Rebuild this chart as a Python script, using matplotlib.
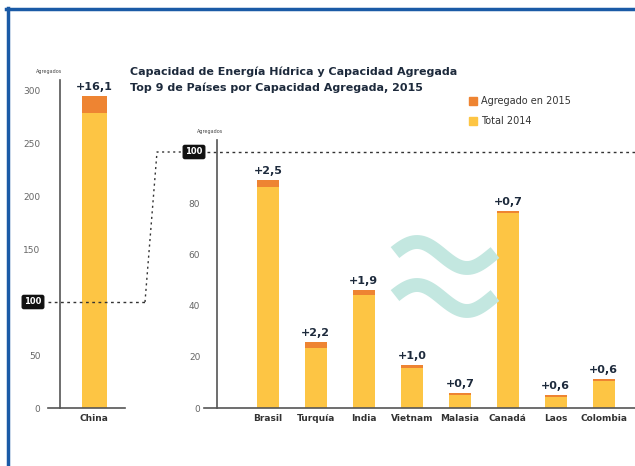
import numpy as np
import matplotlib
matplotlib.use("Agg")
import matplotlib.pyplot as plt
from matplotlib.lines import Line2D
from matplotlib.patches import Rectangle

# data
china_total = [279.0]
china_added = [16.1]
countries = ["Brasil", "Turquía", "India", "Vietnam", "Malasia", "Canadá", "Laos", "Colombia"]
total_2014 = [86.5, 23.6, 44.1, 15.8, 5.1, 76.3, 4.4, 10.7]
added_2015 = [2.5, 2.2, 1.9, 1.0, 0.7, 0.7, 0.6, 0.6]
left_ticks = [0, 50, 150, 200, 250, 300]
right_ticks = [0, 20, 40, 60, 80]

W, H = 635, 466
YELLOW = "#FDC544"
ORANGE = "#EE8432"
DARK = "#1d2a3c"
GREY = "#666666"


def fx(x):
    return x / W


def fy(y):
    return 1 - y / H


def label(v):
    return "+" + f"{v:.1f}".replace(".", ",")


fig = plt.figure(figsize=(W / 100, H / 100), dpi=100)

# blue frame (top and left only)
fig.add_artist(Line2D([fx(6), 1], [fy(9), fy(9)], color="#1a5aa6", lw=2.5))
fig.add_artist(Line2D([fx(8), fx(8)], [fy(8), 0], color="#1a5aa6", lw=2.5))

# ---- left panel: China
axl = fig.add_axes([fx(60), fy(408), fx(125) - fx(60), fy(80) - fy(408)])
axl.bar([0], china_total, width=0.75, color=YELLOW)
axl.bar([0], china_added, bottom=china_total, width=0.75, color=ORANGE)
axl.text(0, china_total[0] + china_added[0] + 4, label(china_added[0]),
         ha="center", va="bottom", fontsize=8, fontweight="bold", color=DARK)
axl.set_xlim(-1.02, 0.93)
axl.set_ylim(0, 310)
axl.set_xticks([0])
axl.set_xticklabels(["China"], fontsize=6.5, fontweight="bold", color="#333333")
axl.set_yticks(left_ticks)
axl.set_yticklabels([str(t) for t in left_ticks], fontsize=6.5, color=GREY)
axl.tick_params(axis="y", length=0, pad=14)
axl.tick_params(axis="x", length=0, pad=4)
for s in ["top", "right", "bottom"]:
    axl.spines[s].set_visible(False)
axl.spines["left"].set_color("#555555")
axl.spines["left"].set_linewidth(1.2)
axl.plot([-0.18, 1], [0, 0], transform=axl.get_yaxis_transform(), color="#555555",
         lw=1.2, clip_on=False)
axl.plot([-0.18, 1.31], [100, 100], transform=axl.get_yaxis_transform(), color="#333333",
         lw=1, ls=(0, (2, 2.5)), clip_on=False)

# ---- right panel: other countries
axr = fig.add_axes([fx(217), fy(408), 1 - fx(217), fy(140) - fy(408)])
xpos = np.arange(len(countries))
axr.bar(xpos, total_2014, width=0.47, color=YELLOW)
axr.bar(xpos, added_2015, bottom=total_2014, width=0.47, color=ORANGE)
for x, t, a in zip(xpos, total_2014, added_2015):
    axr.text(x, t + a + 1.5, label(a), ha="center", va="bottom",
             fontsize=8, fontweight="bold", color=DARK)
axr.set_xlim(-1.06, 7.65)
axr.set_ylim(0, 104.7)
axr.set_xticks(xpos)
axr.set_xticklabels(countries, fontsize=6.5, fontweight="bold", color="#333333")
axr.set_yticks(right_ticks)
axr.set_yticklabels([str(t) for t in right_ticks], fontsize=6.5, color=GREY)
axr.tick_params(axis="y", length=0, pad=12)
axr.tick_params(axis="x", length=0, pad=4)
for s in ["top", "right", "bottom"]:
    axr.spines[s].set_visible(False)
axr.spines["left"].set_color("#555555")
axr.spines["left"].set_linewidth(1.2)
axr.plot([-0.03, 1], [0, 0], transform=axr.get_yaxis_transform(), color="#555555",
         lw=1.2, clip_on=False)
axr.plot([-0.025, 1], [100, 100], transform=axr.get_yaxis_transform(), color="#333333",
         lw=1, ls=(0, (2, 2.5)), clip_on=False)

# connector between the two 100 marks
fig.add_artist(Line2D([fx(145), fx(157), fx(182)], [fy(302), fy(152), fy(152)],
                      color="#333333", lw=1, ls=(0, (1.5, 2.5))))

# black "100" boxes
box = dict(boxstyle="round,pad=0.25,rounding_size=0.2", fc="#111111", ec="#111111")
fig.text(fx(33), fy(302), "100", ha="center", va="center", fontsize=6,
         fontweight="bold", color="white", bbox=box)
fig.text(fx(194), fy(152), "100", ha="center", va="center", fontsize=6,
         fontweight="bold", color="white", bbox=box)

# small unit labels
fig.text(fx(49), fy(72), "Agregados", ha="center", va="center", fontsize=3.5, color="#444444")
fig.text(fx(210), fy(131), "Agregados", ha="center", va="center", fontsize=3.5, color="#444444")

# title
fig.text(fx(130), fy(72), "Capacidad de Energía Hídrica y Capacidad Agregada",
         ha="left", va="center", fontsize=8, fontweight="bold", color=DARK)
fig.text(fx(130), fy(88), "Top 9 de Países por Capacidad Agregada, 2015",
         ha="left", va="center", fontsize=8, fontweight="bold", color=DARK)

# legend
for yy, c, txt in [(101, ORANGE, "Agregado en 2015"), (121, YELLOW, "Total 2014")]:
    fig.add_artist(Rectangle((fx(469), fy(yy + 4)), fx(8), 8 / H, color=c))
    fig.text(fx(481), fy(yy), txt, ha="left", va="center", fontsize=7, color="#333333")

# decorative break symbol
t = np.linspace(0, 1, 60)
for c in [255, 298]:
    xs = 395 + 100 * t
    ys = c - 13 * np.cos(2 * np.pi * (t - 0.22))
    fig.add_artist(Line2D(fx(xs), fy(ys), color="#c3e7e0", lw=10, solid_capstyle="butt"))

fig.savefig("out.png", dpi=100)
